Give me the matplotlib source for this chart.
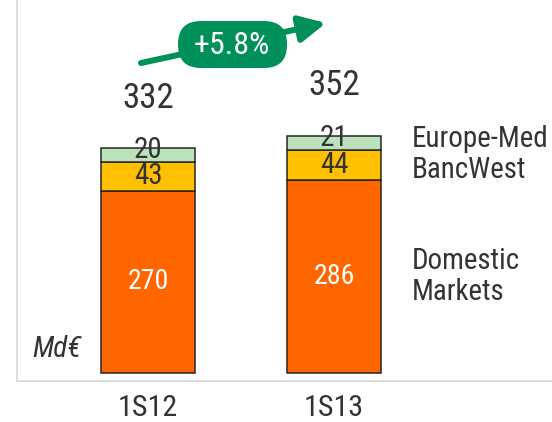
import numpy as np
import matplotlib
matplotlib.use("Agg")
import matplotlib.pyplot as plt
from matplotlib import font_manager as fm
from matplotlib.patches import FancyBboxPatch, FancyArrowPatch

# fuente estrecha (tipo Arial Narrow) si esta instalada
disponibles = {f.name for f in fm.fontManager.ttflist}
fuente = 'Liberation Sans'
for cand in ['Liberation Sans Narrow', 'Arial Narrow', 'Roboto Condensed', 'Archivo Narrow', 'Barlow Semi Condensed']:
    if cand in disponibles:
        fuente = cand
        break
plt.rcParams['font.family'] = [fuente, 'DejaVu Sans']

# datos
periodos = ['1S12', '1S13']
domestic = [270, 286]
bancwest = [43, 44]
europe_med = [20, 21]
totales = [332, 352]
crecimiento = '+5.8%'
series_labels = ['Europe-Med', 'BancWest', 'Domestic\nMarkets']

c_dom = '#FF6600'
c_bw = '#FFC000'
c_em = '#BCE2BC'
c_txt = '#333333'
verde = '#00905A'

fig = plt.figure(figsize=(552/72, 422/72), dpi=72)
ax = fig.add_axes([17/552, 41/422, 535/552, 381/422])

x = np.arange(len(periodos))
w = 0.505
dom = np.array(domestic)
bw = np.array(bancwest)
em = np.array(europe_med)

ax.bar(x, dom, w, color=c_dom, edgecolor='#222222', linewidth=1.5, zorder=2)
ax.bar(x, bw, w, bottom=dom, color=c_bw, edgecolor='#222222', linewidth=1.5, zorder=2)
ax.bar(x, em, w, bottom=dom + bw, color=c_em, edgecolor='#222222', linewidth=1.5, zorder=2)

for i in range(len(x)):
    ax.text(x[i], dom[i] / 2, str(dom[i]), ha='center', va='center', color='white', fontsize=28, zorder=3)
    ax.text(x[i], dom[i] + bw[i] / 2, str(bw[i]), ha='center', va='center', color=c_txt, fontsize=29, zorder=3)
    ax.annotate(str(em[i]), (x[i], dom[i] + bw[i] + em[i] / 2), xytext=(0, 5), textcoords='offset points',
                ha='center', va='center', color=c_txt, fontsize=29, zorder=3)
    ax.annotate(str(totales[i]), (x[i], totales[i]), xytext=(0, 50), textcoords='offset points',
                ha='center', va='center', color=c_txt, fontsize=35)

# etiquetas de series a la derecha
ult = len(x) - 1
xl = x[ult] + 0.42
ax.annotate(series_labels[0], (xl, dom[ult] + bw[ult] + em[ult] / 2), xytext=(0, 4), textcoords='offset points',
            ha='left', va='center', color=c_txt, fontsize=29)
ax.annotate(series_labels[1], (xl, dom[ult] + bw[ult] / 2), xytext=(0, -5), textcoords='offset points',
            ha='left', va='center', color=c_txt, fontsize=29)
ax.text(xl, dom[ult] / 2, series_labels[2], ha='left', va='center', color=c_txt, fontsize=29, linespacing=1.12)

ax.text(-0.36, 35, 'Md€', ha='right', va='center', color=c_txt, fontsize=29, style='italic')

ax.set_xlim(-0.704, 2.172)
ax.set_ylim(-11.85, 552.6)
ax.set_xticks(x)
ax.set_xticklabels(periodos, fontsize=30, color=c_txt)
ax.tick_params(axis='x', length=0, pad=13)
ax.set_yticks([])
for s in ['top', 'right']:
    ax.spines[s].set_visible(False)
for s in ['left', 'bottom']:
    ax.spines[s].set_color('#DDDDDD')
    ax.spines[s].set_linewidth(2)

# flecha de crecimiento
ov = fig.add_axes([0, 0, 1, 1])
ov.set_xlim(0, 552)
ov.set_ylim(422, 0)
ov.axis('off')
flecha = FancyArrowPatch((141, 63), (326, 23), arrowstyle='-|>,head_length=22,head_width=11',
                         color=verde, linewidth=6, mutation_scale=1, shrinkA=0, shrinkB=0)
ov.add_patch(flecha)
pill = FancyBboxPatch((178, 21), 109, 47, boxstyle='round,pad=0,rounding_size=23', facecolor=verde, edgecolor='none')
ov.add_patch(pill)
ov.text(232, 45, crecimiento, ha='center', va='center', color='white', fontsize=32)

fig.savefig('out.png', dpi=72)
